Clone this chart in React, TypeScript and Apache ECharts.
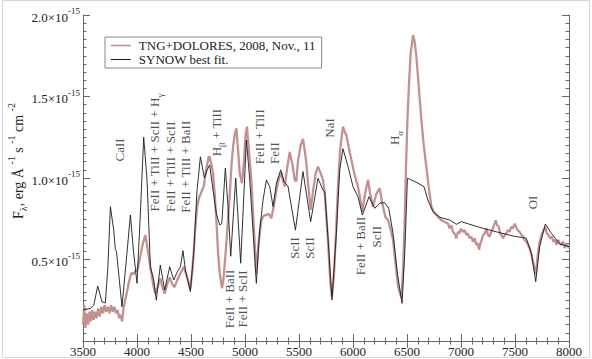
import React, { useEffect, useRef } from 'react';
import * as echarts from 'echarts';

// SYNOW best fit (wavelength in Å, flux in 1e-15 erg/Å/s/cm²)
const synowWl = [3500, 3569, 3600, 3636, 3676, 3707, 3730, 3754, 3784, 3800, 3810, 3824, 3861, 3907, 3939, 3969, 4000, 4031, 4062, 4093, 4124, 4155, 4179, 4216, 4256, 4303, 4340, 4370, 4402, 4426, 4448, 4494, 4525, 4556, 4587, 4624, 4650, 4673, 4704, 4735, 4766, 4785, 4818, 4843, 4868, 4914, 4960, 5013, 5044, 5105, 5136, 5167, 5198, 5229, 5260, 5291, 5331, 5361, 5398, 5467, 5537, 5568, 5608, 5676, 5722, 5738, 5768, 5805, 5846, 5877, 5907, 5954, 6000, 6046, 6087, 6148, 6201, 6247, 6293, 6331, 6371, 6411, 6454, 6479, 6504, 6534, 6602, 6657, 6694, 6741, 6803, 6895, 6957, 7003, 7173, 7327, 7481, 7605, 7652, 7692, 7728, 7781, 7837, 7914, 8000];
const synowFlux = [0.19, 0.2, 0.22, 0.337, 0.24, 0.233, 0.45, 0.824, 0.68, 0.56, 0.55, 0.456, 0.21, 0.54, 0.773, 0.54, 0.354, 0.78, 1.25, 0.988, 0.456, 0.374, 0.25, 0.466, 0.313, 0.456, 0.374, 0.42, 0.456, 0.554, 0.436, 0.303, 0.538, 0.926, 1.13, 1.0, 1.05, 1.08, 0.926, 0.78, 0.712, 0.72, 1.06, 0.824, 0.52, 1.0, 0.477, 1.233, 0.988, 0.354, 0.68, 0.865, 0.988, 0.947, 0.824, 0.968, 1.05, 0.977, 0.95, 0.68, 1.04, 0.906, 0.732, 0.998, 0.926, 0.916, 0.64, 0.252, 0.66, 1.05, 1.18, 1.07, 0.947, 0.885, 0.773, 0.885, 0.814, 0.845, 0.849, 0.814, 0.66, 0.415, 0.231, 0.538, 0.998, 0.99, 0.968, 0.947, 0.865, 0.793, 0.759, 0.742, 0.716, 0.732, 0.697, 0.67, 0.644, 0.63, 0.538, 0.364, 0.579, 0.718, 0.66, 0.595, 0.579];

// TNG+DOLORES observed spectrum
const obsWl = [3500, 3512, 3522, 3535, 3548, 3560, 3572, 3585, 3598, 3610, 3625, 3640, 3655, 3670, 3685, 3700, 3715, 3730, 3745, 3760, 3775, 3790, 3805, 3820, 3835, 3850, 3862, 3875, 3890, 3907, 3925, 3940, 3954, 3970, 3985, 4000, 4015, 4031, 4055, 4078, 4095, 4108, 4124, 4139, 4155, 4170, 4190, 4216, 4235, 4256, 4280, 4303, 4325, 4346, 4370, 4402, 4433, 4460, 4494, 4510, 4525, 4540, 4556, 4575, 4600, 4618, 4640, 4664, 4673, 4690, 4704, 4720, 4735, 4750, 4766, 4787, 4800, 4818, 4840, 4858, 4875, 4889, 4905, 4920, 4935, 4951, 4972, 4990, 5005, 5018, 5035, 5059, 5080, 5105, 5125, 5152, 5175, 5198, 5220, 5244, 5270, 5291, 5315, 5337, 5355, 5368, 5390, 5414, 5440, 5460, 5475, 5490, 5515, 5537, 5555, 5568, 5590, 5608, 5630, 5655, 5676, 5700, 5722, 5740, 5768, 5790, 5805, 5825, 5845, 5861, 5880, 5907, 5925, 5939, 5960, 5985, 6015, 6046, 6065, 6087, 6110, 6139, 6160, 6185, 6215, 6247, 6270, 6300, 6325, 6350, 6371, 6395, 6417, 6448, 6465, 6479, 6490, 6504, 6520, 6534, 6556, 6570, 6587, 6610, 6633, 6655, 6679, 6700, 6726, 6750, 6787, 6820, 6850, 6880, 6895, 6911, 6925, 6940, 6957, 6972, 6985, 7000, 7018, 7035, 7050, 7065, 7080, 7095, 7110, 7127, 7140, 7155, 7167, 7180, 7192, 7204, 7220, 7235, 7250, 7265, 7280, 7295, 7310, 7321, 7335, 7350, 7362, 7374, 7390, 7404, 7420, 7435, 7450, 7465, 7480, 7497, 7510, 7525, 7543, 7560, 7575, 7590, 7605, 7620, 7635, 7652, 7672, 7692, 7710, 7728, 7750, 7765, 7780, 7795, 7810, 7825, 7840, 7855, 7870, 7885, 7900, 7915, 7930, 7945, 7960, 7975, 7990, 8000];
const obsFlux = [0.1, 0.22, 0.08, 0.17, 0.1, 0.18, 0.12, 0.19, 0.13, 0.18, 0.14, 0.2, 0.15, 0.21, 0.17, 0.22, 0.18, 0.21, 0.17, 0.22, 0.18, 0.21, 0.17, 0.19, 0.14, 0.16, 0.12, 0.2, 0.25, 0.3, 0.36, 0.4, 0.42, 0.41, 0.43, 0.43, 0.47, 0.52, 0.6, 0.65, 0.58, 0.52, 0.45, 0.39, 0.33, 0.29, 0.33, 0.385, 0.33, 0.29, 0.35, 0.39, 0.35, 0.33, 0.37, 0.415, 0.456, 0.4, 0.32, 0.42, 0.54, 0.7, 0.82, 0.88, 0.92, 0.95, 1.05, 1.13, 1.13, 1.08, 1.03, 0.9, 0.74, 0.55, 0.415, 0.323, 0.38, 0.517, 0.72, 0.885, 1.08, 1.19, 1.27, 1.305, 1.18, 1.03, 0.968, 1.1, 1.26, 1.315, 1.18, 0.988, 0.72, 0.415, 0.6, 0.742, 0.77, 0.773, 0.78, 0.753, 0.84, 0.926, 1.0, 1.03, 0.98, 0.947, 1.06, 1.16, 1.08, 0.988, 0.98, 1.1, 1.2, 1.24, 1.16, 1.09, 0.92, 0.804, 0.92, 1.03, 1.07, 1.03, 0.988, 0.9, 0.62, 0.36, 0.272, 0.42, 0.7, 0.947, 1.17, 1.315, 1.28, 1.264, 1.19, 1.11, 1.02, 0.947, 0.88, 0.793, 0.9, 0.988, 0.9, 0.824, 0.9, 0.937, 0.85, 0.76, 0.742, 0.68, 0.62, 0.47, 0.333, 0.262, 0.45, 0.742, 1.05, 1.356, 1.6, 1.765, 1.877, 1.84, 1.744, 1.55, 1.356, 1.2, 1.07, 0.95, 0.824, 0.79, 0.763, 0.74, 0.73, 0.72, 0.69, 0.71, 0.67, 0.66, 0.63, 0.67, 0.66, 0.69, 0.67, 0.68, 0.65, 0.66, 0.63, 0.64, 0.61, 0.63, 0.59, 0.6, 0.56, 0.6, 0.62, 0.65, 0.66, 0.69, 0.65, 0.64, 0.67, 0.69, 0.72, 0.74, 0.71, 0.7, 0.66, 0.65, 0.63, 0.65, 0.66, 0.68, 0.67, 0.7, 0.69, 0.72, 0.7, 0.68, 0.67, 0.65, 0.64, 0.62, 0.61, 0.59, 0.57, 0.53, 0.47, 0.41, 0.52, 0.61, 0.66, 0.68, 0.7, 0.66, 0.65, 0.63, 0.64, 0.61, 0.62, 0.59, 0.62, 0.6, 0.59, 0.61, 0.57, 0.6, 0.58, 0.57];

// Line identifications (position in data coordinates)
const annotLabels = [
  '{n|CaII}',
  '{n|FeII + TiII + ScII + H}{sub|γ}',
  '{n|FeII + TiII + ScII}',
  '{n|FeII + TiII + BaII}',
  '{n|H}{sub|β}{n| + TiII}',
  '{n|FeII + TiII}',
  '{n|FeII}',
  '{n|FeII + BaII}',
  '{n|FeII + ScII}',
  '{n|ScII}',
  '{n|ScII}',
  '{n|NaI}',
  '{n|FeII + BaII}',
  '{n|ScII}',
  '{n|H}{sub|α}',
  '{n|OI}',
];
const annotWl = [3849, 4180, 4324, 4463, 4750, 5152, 5284, 4874, 4988, 5476, 5615, 5793, 6083, 6231, 6402, 7676];
const annotFlux = [1.172, 1.156, 1.069, 1.069, 1.279, 1.253, 1.153, 0.258, 0.258, 0.571, 0.571, 1.307, 0.583, 0.64, 1.245, 0.85];

const seriesNames = ['TNG+DOLORES, 2008, Nov., 11', 'SYNOW best fit.'];

const FONT = 'Liberation Serif';

export default function App() {
  const ref = useRef<HTMLDivElement>(null);
  useEffect(() => {
    document.body.style.margin = '0';
    const chart = echarts.init(ref.current!, null, { renderer: 'svg' });
    const axisColor = '#666';
    const xCommon = {
      type: 'value' as const,
      min: 3500,
      max: 8000,
      interval: 500,
      axisLine: { show: true, lineStyle: { color: axisColor, width: 1 } },
      axisTick: { show: true, inside: true, length: 7, lineStyle: { color: axisColor } },
      minorTick: { show: true, splitNumber: 5, length: 3.5, lineStyle: { color: axisColor } },
      splitLine: { show: false },
    };
    const yCommon = {
      type: 'value' as const,
      min: 0,
      max: 2.0,
      interval: 0.5,
      axisLine: { show: true, lineStyle: { color: axisColor, width: 1 } },
      axisTick: { show: true, inside: true, length: 7, lineStyle: { color: axisColor } },
      minorTick: { show: true, splitNumber: 10, length: 3.5, lineStyle: { color: axisColor } },
      splitLine: { show: false },
    };
    chart.setOption({
      animation: false,
      backgroundColor: '#fff',
      grid: { left: 83, right: 23, top: 15, bottom: 18, containLabel: false },
      xAxis: [
        {
          ...xCommon,
          position: 'bottom',
          axisLabel: {
            show: true,
            margin: 4,
            fontSize: 13,
            fontFamily: FONT,
            color: '#222',
            formatter: (v: number) => String(v),
          },
        },
        { ...xCommon, position: 'top', axisLabel: { show: false } },
      ],
      yAxis: [
        {
          ...yCommon,
          position: 'left',
          axisLabel: {
            show: true,
            margin: 3,
            showMinLabel: false,
            formatter: (v: number) => (v === 0 ? '' : `{m|${v.toFixed(1)}×10}{s|-15}`),
            rich: {
              m: { fontSize: 13, fontFamily: FONT, color: '#222', verticalAlign: 'bottom' },
              s: { fontSize: 9, fontFamily: FONT, color: '#222', verticalAlign: 'bottom', padding: [0, 0, 8, 0] },
            },
          },
        },
        { ...yCommon, position: 'right', axisLabel: { show: false } },
      ],
      legend: {
        left: 105,
        top: 37,
        orient: 'vertical',
        borderColor: '#888',
        borderWidth: 1,
        padding: [2, 6, 2, 5],
        itemGap: 1,
        itemWidth: 20,
        itemHeight: 12,
        itemStyle: { opacity: 0, borderWidth: 0 },
        textStyle: { fontSize: 13, fontFamily: FONT, color: '#222', padding: [0, 0, 0, 3] },
        data: [
          { name: seriesNames[0], lineStyle: { width: 1.6 } },
          { name: seriesNames[1], lineStyle: { width: 1 } },
        ],
      },
      graphic: [
        {
          type: 'rect',
          shape: { x: 2.5, y: 0.5, width: 587, height: 357 },
          style: { fill: 'none', stroke: '#d6d6d6', lineWidth: 1 },
          silent: true,
        },
        {
          type: 'text',
          x: 17,
          y: 161,
          rotation: Math.PI / 2,
          style: {
            text: '{m|F}{sub|λ}{m|, erg Å }{sup|-1}{m| s }{sup|-1}{m| cm }{sup|-2}',
            align: 'center',
            verticalAlign: 'middle',
            rich: {
              m: { fontSize: 14, fontFamily: FONT, fill: '#222', verticalAlign: 'bottom', padding: [0, 0, 3, 0] },
              sub: { fontSize: 10, fontFamily: FONT, fill: '#222', verticalAlign: 'bottom' },
              sup: { fontSize: 10, fontFamily: FONT, fill: '#222', verticalAlign: 'bottom', padding: [0, 0, 12, 0] },
            },
          },
        },
      ],
      series: [
        {
          name: seriesNames[0],
          type: 'line',
          data: obsWl.map((w, i) => [w, obsFlux[i]]),
          showSymbol: false,
          symbol: 'none',
          lineStyle: { color: '#c29292', width: 2.3 },
          itemStyle: { color: '#c29292' },
          z: 2,
        },
        {
          name: seriesNames[1],
          type: 'line',
          data: synowWl.map((w, i) => [w, synowFlux[i]]),
          showSymbol: false,
          symbol: 'none',
          lineStyle: { color: '#1a1a1a', width: 0.9 },
          itemStyle: { color: '#1a1a1a' },
          z: 3,
        },
        {
          name: 'annotations',
          type: 'scatter',
          silent: true,
          symbolSize: 1,
          itemStyle: { color: 'rgba(0,0,0,0)' },
          data: annotWl.map((w, i) => ({ value: [w, annotFlux[i]], label: { formatter: annotLabels[i] } })),
          label: {
            show: true,
            position: 'inside',
            rotate: 90,
            align: 'center',
            verticalAlign: 'middle',
            rich: {
              n: { fontSize: 13, fontFamily: FONT, color: '#222', verticalAlign: 'bottom', padding: [0, 0, 3, 0] },
              sub: { fontSize: 9, fontFamily: FONT, color: '#222', verticalAlign: 'bottom' },
            },
          },
          z: 4,
        },
      ],
    });
    return () => chart.dispose();
  }, []);
  return <div ref={ref} style={{ width: 592, height: 359 }} />;
}
